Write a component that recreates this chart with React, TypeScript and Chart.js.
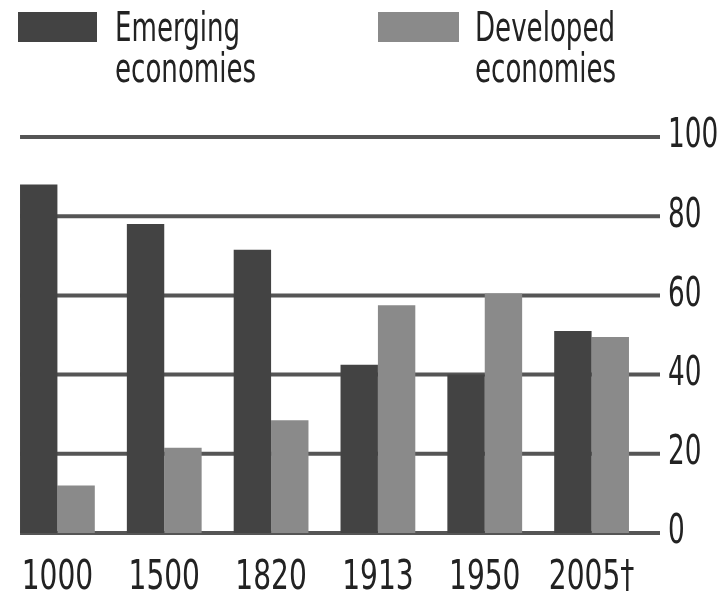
import React, { useEffect, useRef } from "react";
import { Chart, registerables } from "chart.js";
Chart.register(...registerables);

const categories = ["1000", "1500", "1820", "1913", "1950", "2005†"];
const emerging = [88, 78, 71.5, 42.5, 40, 51];
const developed = [12, 21.5, 28.5, 57.5, 60.5, 49.5];
const yTickValues = [0, 20, 40, 60, 80, 100];
const legendEmerging = ["Emerging", "economies"];
const legendDeveloped = ["Developed", "economies"];

const DARK = "#434343";
const LIGHT = "#8a8a8a";
const FONT = "'DejaVu Sans Condensed', 'DejaVu Sans', sans-serif";

// Narrow the canvas tick labels horizontally (condensed face look)
const condensePlugin = {
  id: "condense",
  beforeDraw(chart: any) {
    const ctx = chart.ctx;
    if (ctx.__origFillText) return;
    const orig = ctx.fillText.bind(ctx);
    ctx.__origFillText = orig;
    ctx.fillText = (text: string, x: number, y: number, maxW?: number) => {
      const sx = ctx.textAlign === "center" ? 0.78 : 0.73;
      ctx.save();
      ctx.translate(x, y);
      ctx.scale(sx, 1);
      if (maxW !== undefined) orig(text, 0, 0, maxW / sx);
      else orig(text, 0, 0);
      ctx.restore();
    };
  },
};

const gridPlugin = {
  id: "customGrid",
  beforeDatasetsDraw(chart: any) {
    const { ctx, chartArea, scales } = chart;
    const y = scales.y;
    const meta = chart.getDatasetMeta(0);
    const first = meta.data[0];
    const x0 = first.x - first.width / 2;
    const x1 = chartArea.right + 15;
    ctx.save();
    ctx.strokeStyle = "#555555";
    ctx.lineWidth = 4;
    y.ticks.forEach((t: any) => {
      const py = y.getPixelForValue(t.value);
      ctx.beginPath();
      ctx.moveTo(x0, py);
      ctx.lineTo(x1, py);
      ctx.stroke();
    });
    ctx.restore();
  },
};

export default function App() {
  const ref = useRef<HTMLCanvasElement>(null);
  useEffect(() => {
    const chart = new Chart(ref.current!, {
      type: "bar",
      data: {
        labels: categories,
        datasets: [
          { label: legendEmerging.join(" "), data: emerging, backgroundColor: DARK, borderWidth: 0 },
          { label: legendDeveloped.join(" "), data: developed, backgroundColor: LIGHT, borderWidth: 0 },
        ],
      },
      options: {
        animation: false,
        responsive: false,
        maintainAspectRatio: false,
        layout: { padding: { left: 4, top: 137, right: 0, bottom: 0 } },
        datasets: { bar: { categoryPercentage: 0.7, barPercentage: 1.0 } },
        plugins: { legend: { display: false }, tooltip: { enabled: false } },
        scales: {
          x: {
            offset: true,
            grid: { display: false },
            border: { display: false },
            ticks: { color: "#222", font: { family: FONT, size: 40 }, padding: 14, maxRotation: 0, autoSkip: false },
            afterFit: (s: any) => {
              s.height = 58;
              s.paddingLeft = 0;
              s.paddingRight = 0;
            },
          },
          y: {
            position: "right",
            min: 0,
            max: 100,
            afterBuildTicks: (s: any) => { s.ticks = yTickValues.map((v) => ({ value: v })); },
            grid: { display: false },
            border: { display: false },
            ticks: { color: "#222", font: { family: FONT, size: 40 }, padding: 15 },
            afterFit: (s: any) => {
              s.width = 82;
              s.paddingTop = 0;
              s.paddingBottom = 0;
            },
          },
        },
      },
      plugins: [condensePlugin, gridPlugin],
    });
    return () => chart.destroy();
  }, []);

  const textStyle: React.CSSProperties = {
    position: "absolute",
    top: 7,
    fontFamily: FONT,
    fontSize: 40,
    lineHeight: "41px",
    color: "#222",
    whiteSpace: "nowrap",
    transform: "scaleX(0.725)",
    transformOrigin: "0 0",
  };

  return (
    <div style={{ position: "fixed", left: 0, top: 0, width: 727, height: 591, background: "#fff" }}>
      <canvas ref={ref} width={727} height={591} style={{ position: "absolute", left: 0, top: 0 }} />
      <div style={{ position: "absolute", left: 18, top: 12, width: 79, height: 30, background: DARK }} />
      <div style={{ ...textStyle, left: 115 }}>
        {legendEmerging[0]}<br />{legendEmerging[1]}
      </div>
      <div style={{ position: "absolute", left: 378, top: 12, width: 81, height: 30, background: LIGHT }} />
      <div style={{ ...textStyle, left: 475 }}>
        {legendDeveloped[0]}<br />{legendDeveloped[1]}
      </div>
    </div>
  );
}
